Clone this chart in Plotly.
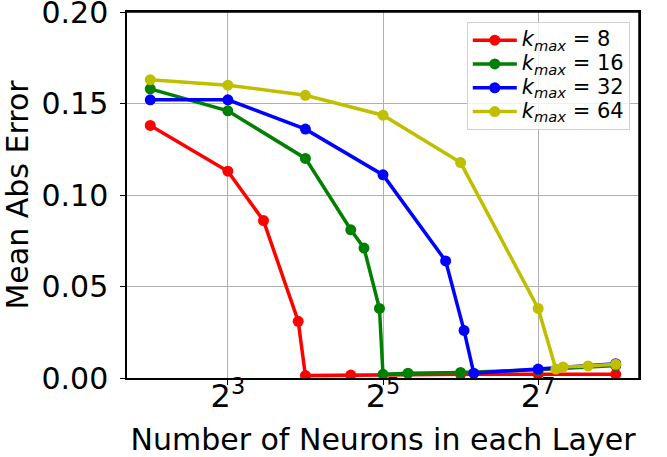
import plotly.graph_objects as go
import math

# ---- data ----
red_x = [4, 8, 11, 15, 16, 24, 64, 128, 256]
red_y = [0.138, 0.113, 0.086, 0.031, 0.0013, 0.0016, 0.002, 0.002, 0.002]

green_x = [4, 8, 16, 24, 27, 31, 32, 40, 64, 128, 256]
green_y = [0.158, 0.146, 0.120, 0.081, 0.071, 0.038, 0.002, 0.0026, 0.003, 0.0045, 0.0068]

blue_x = [4, 8, 16, 32, 56, 66, 72, 128, 256]
blue_y = [0.152, 0.152, 0.136, 0.111, 0.064, 0.026, 0.0026, 0.0049, 0.0078]

yellow_x = [4, 8, 16, 32, 64, 128, 150, 160, 200, 256]
yellow_y = [0.163, 0.160, 0.1545, 0.1436, 0.1177, 0.038, 0.0049, 0.0060, 0.0066, 0.0075]

k_values = [8, 16, 32, 64]
x_tickvals = [8, 32, 128]
x_ticktext = ["2<sup>3</sup>", "2<sup>5</sup>", "2<sup>7</sup>"]
y_tickvals = [0.0, 0.05, 0.10, 0.15, 0.20]
y_ticktext = ["0.00", "0.05", "0.10", "0.15", "0.20"]

colors = ["#ff0000", "#008000", "#0000ff", "#bfbf00"]

FONT = "DejaVu Sans"

series_names = ["<span style=\"font-size:21px\"><i>k</i><sub><i>max</i></sub> = %d</span>" % k
                for k in k_values]

fig = go.Figure()
for xs, ys, name, c in zip([red_x, green_x, blue_x, yellow_x],
                           [red_y, green_y, blue_y, yellow_y],
                           series_names, colors):
    fig.add_trace(go.Scatter(x=xs, y=ys, mode="lines+markers", name=name,
                             line=dict(color=c, width=3.5),
                             marker=dict(color=c, size=11)))

# frame (top and right edges)
fig.add_shape(type="line", xref="paper", yref="paper", x0=0, x1=1, y0=1, y1=1,
              line=dict(color="black", width=1.5), layer="above")
fig.add_shape(type="line", xref="paper", yref="paper", x0=1, x1=1, y0=0, y1=1,
              line=dict(color="black", width=1.5), layer="above")

fig.update_layout(
    width=667, height=457,
    margin=dict(l=127, r=28, t=12, b=79),
    paper_bgcolor="white", plot_bgcolor="white",
    font=dict(family=FONT, color="black"),
    showlegend=True,
    legend=dict(x=0.982, y=0.972, xanchor="right", yanchor="top",
                bgcolor="rgba(255,255,255,0.8)", bordercolor="#d0d0d0", borderwidth=1,
                font=dict(size=16, family=FONT), tracegroupgap=0, itemwidth=44),
)
fig.update_xaxes(
    type="log", range=[1.7 * math.log10(2), 8.3 * math.log10(2)],
    tickvals=x_tickvals, ticktext=x_ticktext,
    tickfont=dict(size=32, family=FONT),
    showgrid=True, gridcolor="#b0b0b0", gridwidth=1,
    ticks="outside", ticklen=5, tickcolor="black", ticklabelstandoff=-16,
    ticklabeloverflow="allow",
    showline=True, linecolor="black", linewidth=1.5, mirror=True,
    zeroline=False,
    title=dict(text="Number of Neurons in each Layer", font=dict(size=30, family=FONT), standoff=16),
    automargin=False,
)
fig.update_yaxes(
    range=[0, 0.2000001],
    tickvals=y_tickvals, ticktext=y_ticktext,
    tickfont=dict(size=30, family=FONT),
    showgrid=True, gridcolor="#b0b0b0", gridwidth=1,
    ticks="outside", ticklen=5, tickcolor="black", ticklabelstandoff=6,
    ticklabeloverflow="allow",
    showline=True, linecolor="black", linewidth=1.5, mirror=True,
    zeroline=False,
    title=dict(text="Mean Abs Error", font=dict(size=30, family=FONT), standoff=12),
    automargin=False,
)

fig.write_html("out.html", config={"displayModeBar": False})
